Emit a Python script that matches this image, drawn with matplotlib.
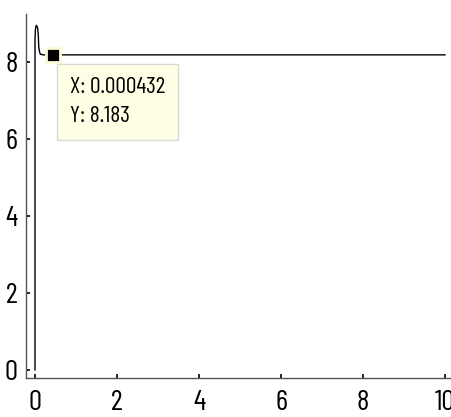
import matplotlib
matplotlib.use("Agg")
import matplotlib.pyplot as plt
import numpy as np

# time axis shown in ms (datatip reports seconds)
t_ms = [0.0, 0.0, 0.01, 0.03, 0.06, 0.08, 0.09, 0.11, 0.13, 0.2, 10.0]
v_out = [0.0, 8.6, 8.85, 8.95, 8.9, 8.7, 8.4, 8.26, 8.2, 8.183, 8.183]
tip_x_s = 0.000432
tip_y = 8.183
x_ticks = [0, 2, 4, 6, 8, 10]
y_ticks = [0, 2, 4, 6, 8]

plt.rcParams["font.family"] = ["Barlow Condensed", "Archivo Narrow", "DejaVu Sans"]

W, H = 452, 417
fig = plt.figure(figsize=(W / 100, H / 100), dpi=100)
xlim = (-0.22, 10.3)
ylim = (-0.21, 9.25)
px_x, px_y = 41.0, 38.5
left, bottom = 26, 378
ax = fig.add_axes([left / W, (H - bottom) / H,
                   (xlim[1] - xlim[0]) * px_x / W, (ylim[1] - ylim[0]) * px_y / H])

ax.plot(t_ms, v_out, color="black", lw=1.0)
ax.plot([tip_x_s * 1e3], [tip_y], marker="s", ms=10, color="black",
        mec="#fbfbd8", mew=2, zorder=5)
ax.annotate(f"X: {tip_x_s:g}\nY: {tip_y:g}", xy=(tip_x_s * 1e3, tip_y),
            xytext=(12.5, -16), textcoords="offset points", ha="left", va="top",
            fontsize=17, linespacing=1.48, zorder=6,
            bbox=dict(boxstyle="square,pad=0.55", fc="#ffffe6", ec="#d8d8d8", lw=1))

ax.set_xlim(*xlim)
ax.set_ylim(*ylim)
ax.set_xticks(x_ticks)
ax.set_yticks(y_ticks)
ax.spines["top"].set_visible(False)
ax.spines["right"].set_visible(False)
for s in ("left", "bottom"):
    ax.spines[s].set_color("#555555")
    ax.spines[s].set_linewidth(1.0)
ax.tick_params(axis="both", direction="in", length=3, width=1.2, color="black",
               labelsize=21)
ax.tick_params(axis="x", pad=9)
ax.tick_params(axis="y", pad=6)
ax.patch.set_alpha(0)

fig.savefig("out.png", dpi=100)
